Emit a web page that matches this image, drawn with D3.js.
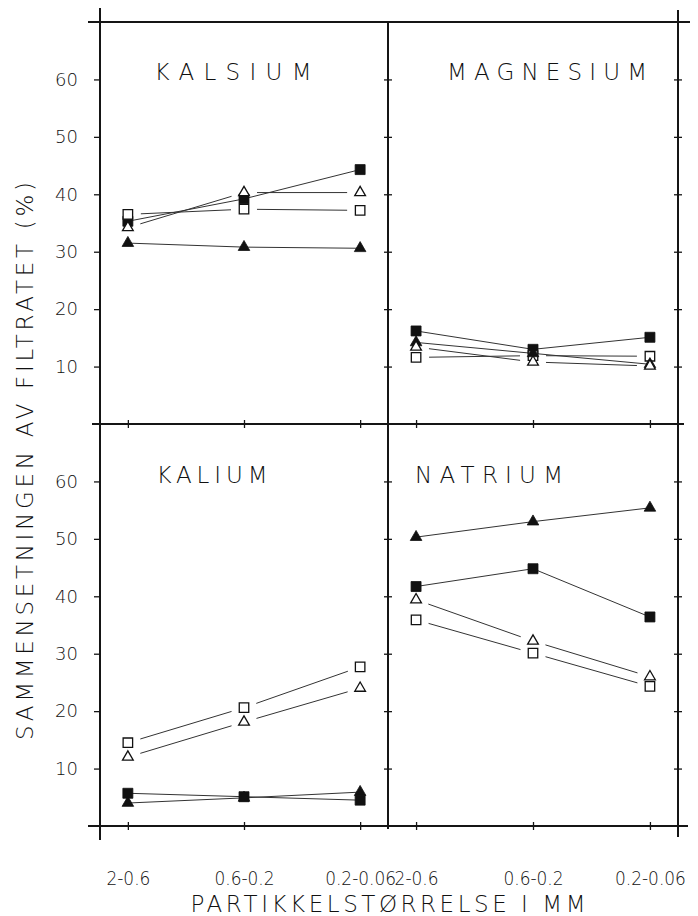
<!DOCTYPE html>
<html>
<head>
<meta charset="utf-8">
<script src="https://cdn.jsdelivr.net/npm/d3@7"></script>
<style>
  html, body { margin: 0; padding: 0; background: #fff; }
  svg { display: block; }
</style>
</head>
<body>
<svg id="chart" width="698" height="916"></svg>
<script>
// ---- data ----
const sizes = ["2-0.6", "0.6-0.2", "0.2-0.06"];
const panelNames = ["KALSIUM", "MAGNESIUM", "KALIUM", "NATRIUM"];
const yTicks = [10, 20, 30, 40, 50, 60];
const yTitle = "SAMMENSETNINGEN AV FILTRATET (%)";
const xTitle = "PARTIKKELSTØRRELSE I MM";
// one array per series, one row per panel (Kalsium, Magnesium, Kalium, Natrium)
const filledSquare   = [[35.3, 39.2, 44.3], [16.2, 13.0, 15.1], [5.7, 5.1, 4.5], [41.7, 44.8, 36.4]];
const openSquare     = [[36.5, 37.4, 37.2], [11.6, 11.9, 11.8], [14.5, 20.6, 27.7], [35.9, 30.1, 24.3]];
const filledTriangle = [[31.5, 30.8, 30.6], [14.2, 12.3, 10.4], [4.0, 4.9, 5.9], [50.3, 53.0, 55.4]];
const openTriangle   = [[34.2, 40.3, 40.3], [13.4, 10.8, 10.1], [12.0, 18.1, 24.0], [39.4, 32.2, 26.0]];

// ---- layout ----
const svg = d3.select("#chart");
const X0 = 100, XM = 388, X1 = 678;
const Y0 = 22, YM = 424, Y1 = 826;
const ink = "#151515";
const fontFam = "'DejaVu Sans', 'Liberation Sans', sans-serif";

const xLeft = d3.scalePoint().domain(sizes).range([X0, XM]).padding(0.24);
const xRight = d3.scalePoint().domain(sizes).range([XM, X1]).padding(0.24);
const yTop = d3.scaleLinear().domain([0, 70]).range([YM, Y0]);
const yBot = d3.scaleLinear().domain([0, 70]).range([Y1, YM]);

const panels = [
  { name: panelNames[0], x: xLeft,  y: yTop, tx: 233, ty: 80, tl: 157 },
  { name: panelNames[1], x: xRight, y: yTop, tx: 547, ty: 80, tl: 200 },
  { name: panelNames[2], x: xLeft,  y: yBot, tx: 212, ty: 483, tl: 111 },
  { name: panelNames[3], x: xRight, y: yBot, tx: 489, ty: 483, tl: 148 }
];

const series = [
  { vals: filledSquare,   shape: d3.symbolSquare,   size: 100, filled: true },
  { vals: openSquare,     shape: d3.symbolSquare,   size: 90,  filled: false },
  { vals: filledTriangle, shape: d3.symbolTriangle, size: 58,  filled: true },
  { vals: openTriangle,   shape: d3.symbolTriangle, size: 50,  filled: false }
];

// ---- frame lines ----
const frame = svg.append("g").attr("stroke", ink).attr("stroke-width", 2).attr("fill", "none");
frame.append("line").attr("x1", X0).attr("x2", X0).attr("y1", 8).attr("y2", 840);
frame.append("line").attr("x1", XM).attr("x2", XM).attr("y1", Y0).attr("y2", 829);
frame.append("line").attr("x1", X1).attr("x2", X1).attr("y1", 10).attr("y2", 837);
frame.append("line").attr("x1", 88).attr("x2", 690).attr("y1", Y0).attr("y2", Y0);
frame.append("line").attr("x1", 92).attr("x2", 684).attr("y1", YM).attr("y2", YM);
frame.append("line").attr("x1", 88).attr("x2", 688).attr("y1", Y1).attr("y2", Y1);

// ---- y axes (left with labels, inner and right crossing ticks) ----
[yTop, yBot].forEach(ys => {
  const gl = svg.append("g").attr("transform", `translate(${X0},0)`)
    .call(d3.axisLeft(ys).tickValues(yTicks).tickSize(6).tickPadding(16));
  gl.select(".domain").remove();
  gl.selectAll(".tick line").attr("stroke", ink).attr("stroke-width", 1.3);
  gl.selectAll(".tick text")
    .attr("font-family", fontFam).attr("font-size", 18)
    .attr("font-weight", 200).attr("fill", "#111");

  [XM, X1].forEach(xx => {
    const g = svg.append("g").attr("transform", `translate(${xx},0)`)
      .call(d3.axisRight(ys).tickValues(yTicks).tickSize(4).tickFormat(""));
    g.select(".domain").remove();
    g.selectAll(".tick line").attr("x1", -4).attr("x2", 4).attr("stroke", ink).attr("stroke-width", 1.3);
  });
});

// ---- x axes ----
[xLeft, xRight].forEach(xs => {
  const gm = svg.append("g").attr("transform", `translate(0,${YM})`)
    .call(d3.axisBottom(xs).tickSize(4).tickFormat(""));
  gm.select(".domain").remove();
  gm.selectAll(".tick line").attr("y1", -4).attr("y2", 4).attr("stroke", ink).attr("stroke-width", 1.3);

  const gb = svg.append("g").attr("transform", `translate(0,${Y1})`)
    .call(d3.axisBottom(xs).tickSize(4).tickPadding(22));
  gb.select(".domain").remove();
  gb.selectAll(".tick line").attr("y1", -4).attr("y2", 4).attr("stroke", ink).attr("stroke-width", 1.3);
  gb.selectAll(".tick text")
    .attr("y", 59).attr("dy", 0)
    .attr("transform", "scale(0.85,1)")
    .attr("font-family", fontFam).attr("font-size", 20)
    .attr("font-weight", 200).attr("fill", "#111");
});

// ---- panels ----
panels.forEach((p, pi) => {
  svg.append("text")
    .attr("x", p.tx).attr("y", p.ty)
    .attr("text-anchor", "middle")
    .attr("font-family", fontFam).attr("font-size", 23).attr("font-weight", 200)
    .attr("fill", "#111")
    .attr("textLength", p.tl).attr("lengthAdjust", "spacing")
    .text(p.name);

  const g = svg.append("g");
  series.forEach(s => {
    const vals = s.vals[pi];
    const pts = vals.map((v, i) => [p.x(sizes[i]), p.y(v)]);
    const gap = s.filled ? 0 : 13;
    for (let i = 0; i < pts.length - 1; i++) {
      const [ax, ay] = pts[i], [bx, by] = pts[i + 1];
      const len = Math.hypot(bx - ax, by - ay);
      const ux = (bx - ax) / len, uy = (by - ay) / len;
      g.append("line")
        .attr("x1", ax + ux * gap).attr("y1", ay + uy * gap)
        .attr("x2", bx - ux * gap).attr("y2", by - uy * gap)
        .attr("stroke", "#333").attr("stroke-width", 1);
    }
  });
  series.forEach(s => {
    const vals = s.vals[pi];
    g.selectAll(null).data(vals).enter().append("path")
      .attr("d", d3.symbol().type(s.shape).size(s.size))
      .attr("transform", (v, i) => `translate(${p.x(sizes[i])},${p.y(v)})`)
      .attr("fill", s.filled ? "#111" : "#fff")
      .attr("stroke", "#111")
      .attr("stroke-width", s.filled ? 0.8 : 1.3);
  });
});

// ---- titles ----
svg.append("text")
  .attr("transform", "translate(33,461) rotate(-90)")
  .attr("text-anchor", "middle")
  .attr("font-family", fontFam).attr("font-size", 23).attr("font-weight", 200)
  .attr("fill", "#111")
  .attr("textLength", 558).attr("lengthAdjust", "spacing")
  .text(yTitle);

svg.append("text")
  .attr("x", 388).attr("y", 912)
  .attr("text-anchor", "middle")
  .attr("font-family", fontFam).attr("font-size", 23).attr("font-weight", 200)
  .attr("fill", "#111")
  .attr("textLength", 395).attr("lengthAdjust", "spacing")
  .text(xTitle);
</script>
</body>
</html>
